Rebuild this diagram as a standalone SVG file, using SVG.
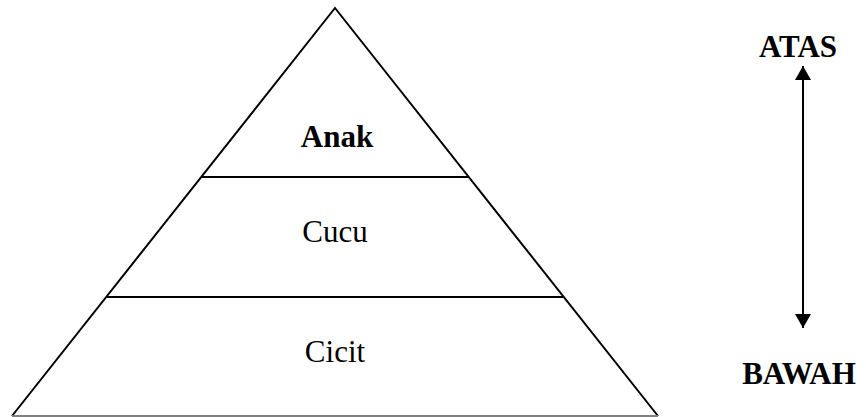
<svg xmlns="http://www.w3.org/2000/svg" width="866" height="417" viewBox="0 0 866 417">
<style>
.t{font-family:"Liberation Serif","Times New Roman",serif;font-size:31px;fill:#000;text-anchor:middle}
.b{font-weight:bold}
.ln{stroke:#000;stroke-width:2;fill:none}
</style>
<defs>
<marker id="ah" viewBox="0 0 14 16" refX="14" refY="8" markerWidth="14" markerHeight="16" markerUnits="userSpaceOnUse" orient="auto-start-reverse">
<path d="M0,0 L14,8 L0,16 Z" fill="#000"/>
</marker>
</defs>
<g id="pyramid">
<polyline class="ln" points="12,416 335,8 658,416"/>
<line x1="12" y1="416" x2="658" y2="416" stroke="#808080" stroke-width="2"/>
</g>
<g id="anak"><text class="t b" x="337" y="147">Anak</text></g>
<g id="cucu"><line class="ln" x1="202" y1="177" x2="469" y2="177"/><text class="t" x="335" y="242">Cucu</text></g>
<g id="cicit"><line class="ln" x1="107" y1="297" x2="563" y2="297"/><text class="t" x="335" y="362">Cicit</text></g>
<g id="atas"><text class="t b" x="798" y="57">ATAS</text></g>
<g id="bawah"><text class="t b" x="799" y="384">BAWAH</text></g>
<g id="connectors">
<line class="ln" x1="803" y1="66" x2="803" y2="328" marker-start="url(#ah)" marker-end="url(#ah)"/>
</g>
</svg>
